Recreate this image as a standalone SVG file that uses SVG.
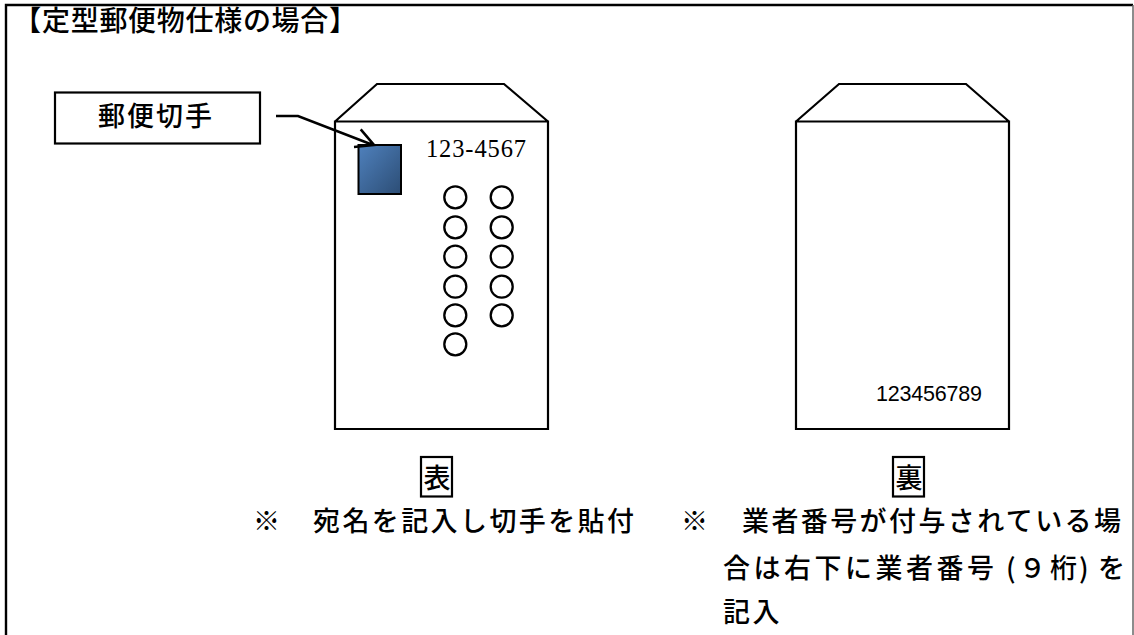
<svg xmlns="http://www.w3.org/2000/svg" width="1134" height="635" viewBox="0 0 1134 635">
<style>
.jp{font-family:"Noto Sans CJK JP","Noto Sans CJK SC",sans-serif;fill:#000;font-weight:500}
.b{font-size:27px;letter-spacing:2.4px}
.ln{fill:none;stroke:#000;stroke-width:2.200}
.c{fill:none;stroke:#000;stroke-width:2.300}
</style>
<defs><linearGradient id="g" x1="0" y1="0" x2="1" y2="1"><stop offset="0" stop-color="#4f81bd"/><stop offset="1" stop-color="#2c4d75"/></linearGradient></defs>
<rect width="1134" height="635" fill="#fff"/>
<path id="frame" d="M6 635V5H1133" fill="none" stroke="#000" stroke-width="2.400"/>
<path d="M1133 5V635" fill="none" stroke="#666" stroke-width="1.500"/>
<text id="title" class="jp" x="13.300" y="31" font-size="28" letter-spacing="0.700">【定型郵便物仕様の場合】</text>
<g id="label"><rect class="ln" x="55" y="92.500" width="205" height="51"/><text class="jp" x="98" y="126" font-size="27" letter-spacing="2">郵便切手</text></g>
<g id="front">
<path class="ln" d="M335 121.500H548V429H335ZM335 121.500L377 84H504L548 121.500"/>
<rect x="358.500" y="145" width="42.500" height="49" fill="url(#g)" stroke="#000" stroke-width="2"/>
<text x="426" y="157" font-family="Liberation Serif,serif" font-size="24.500" textLength="100">123-4567</text>
<g class="c">
<circle cx="455.300" cy="197.300" r="11"/><circle cx="455.300" cy="227.300" r="11"/><circle cx="455.300" cy="256.700" r="11"/><circle cx="455.300" cy="286.700" r="11"/><circle cx="455.300" cy="315.300" r="11"/><circle cx="455.300" cy="344.300" r="11"/>
<circle cx="501.700" cy="197.300" r="11"/><circle cx="501.700" cy="227.300" r="11"/><circle cx="501.700" cy="256.700" r="11"/><circle cx="501.700" cy="286.700" r="11"/><circle cx="501.700" cy="315.300" r="11"/>
</g>
<rect class="ln" x="421" y="457" width="31" height="39.500"/>
<text class="jp b" x="423.500" y="488">表</text>
</g>
<g id="back">
<path class="ln" d="M796 121.500H1009V429H796ZM796 121.500L839 84H966L1009 121.500"/>
<text x="876" y="400.700" font-family="Liberation Sans,sans-serif" font-size="21.500" textLength="106">123456789</text>
<rect class="ln" x="893" y="457" width="31" height="39.500"/>
<text class="jp b" x="895.500" y="488">裏</text>
</g>
<g id="connectors"><path class="ln" style="stroke-width:2.600" d="M276 116H298L373 145M360.700 129.300L374 145L354 147"/></g>
<g id="notes">
<text class="jp b" x="253" y="531">※</text>
<text class="jp b" x="313" y="531">宛名を記入し切手を貼付</text>
<text class="jp b" x="681" y="531">※</text>
<text class="jp b" x="742" y="531">業者番号が付与されている場</text>
<text class="jp b" x="723" y="578" style="letter-spacing:3.500px">合は右下に業者番号</text>
<text class="jp b" x="1006 1019 1050 1079 1098" y="578" style="letter-spacing:0">(&#xFF19;桁)を</text>
<text class="jp b" x="723" y="622">記入</text>
</g>
</svg>
